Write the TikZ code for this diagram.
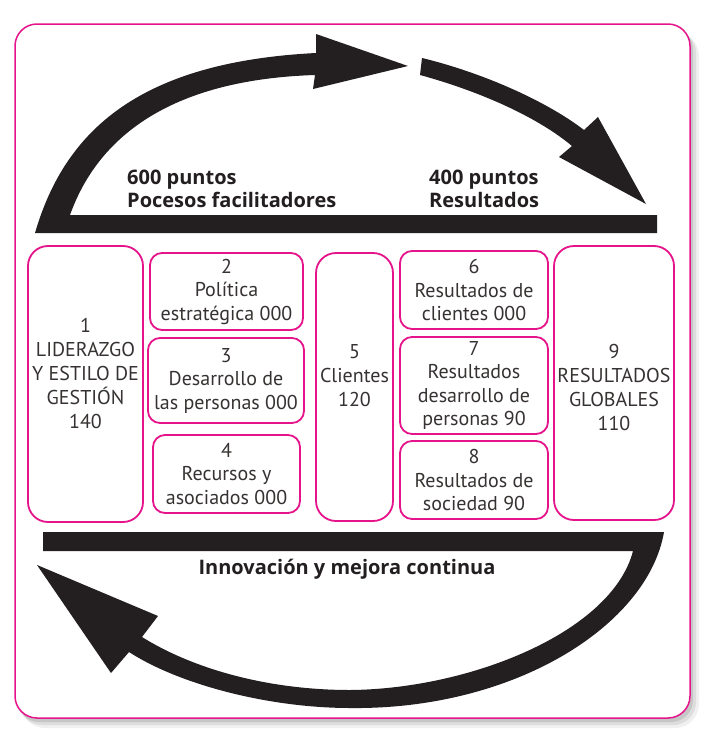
\documentclass[tikz,border=0pt]{standalone}
\usepackage{fontspec}
\setmainfont{PT Sans}
\newfontfamily\lblfont{Open Sans}
\definecolor{mag}{RGB}{230,20,138}
\definecolor{ink}{RGB}{35,31,32}
\definecolor{txtc}{RGB}{55,50,50}
\begin{document}
\begin{tikzpicture}[x=1pt,y=-1pt,
  box/.style={draw=mag,line width=1.8pt,rounded corners=12pt,inner sep=0pt,text=txtc,
    font=\fontsize{20}{23.5}\selectfont,align=center},
  tallbox/.style={box,rounded corners=20pt},
  btxt/.style={text=txtc,font=\fontsize{20}{24}\selectfont,align=center,inner sep=0pt},
  lbl/.style={text=ink,font=\lblfont\bfseries\fontsize{20}{23}\selectfont,align=left,inner sep=0pt,anchor=west},
  arrowfill/.style={fill=ink}]
\useasboundingbox (0,0) rectangle (707,736);
\fill[white] (0,0) rectangle (707,736);
% frame shadow
\fill[black,opacity=0.06,rounded corners=24pt] (21,32) rectangle (699,728);
\fill[black,opacity=0.08,rounded corners=23pt] (19,30) rectangle (696,725);
\fill[black,opacity=0.10,rounded corners=22pt] (17,28) rectangle (693,722);
% frame
\draw[mag,line width=1.5pt,fill=white,rounded corners=22pt] (15,24) rectangle (690,718);

% top arrows
\fill[arrowfill] (35,233) -- (657,233) -- (657,215) -- (70,215)
  .. controls (95,145) and (160,80) .. (315,75) -- (313,89) -- (408,66) -- (316,34) -- (316,53)
  .. controls (140,62) and (65,130) .. (35,233) -- cycle;
\fill[arrowfill] (422,58) .. controls (480,72) and (545,100) .. (584,130) -- (598,117)
  -- (646,204) -- (559,157) -- (572,146) .. controls (535,115) and (475,90) .. (420,75) -- cycle;
% bottom arrow
\fill[arrowfill] (43,532) -- (664,532) .. controls (648,625) and (515,710) .. (350,708)
  .. controls (270,708) and (180,685) .. (129,652) -- (111,673) -- (37,565) -- (158,616) -- (142,637)
  .. controls (195,670) and (270,690) .. (350,690) .. controls (470,689) and (612,632) .. (633,551)
  -- (43,551) -- cycle;

% labels
\node[lbl] (l600) at (127,189) {600 puntos\\Pocesos facilitadores};
\node[lbl] (l400) at (429,189) {400 puntos\\Resultados};
\node[text=ink,font=\lblfont\bfseries\fontsize{20}{23}\selectfont,inner sep=0pt] (linno) at (347,569) {Innovación y mejora continua};

% boxes
\node[tallbox,minimum width=115pt,minimum height=276pt] (b1) at (85.5,384) {};
\node[btxt] (t1) at (85.5,373) {1\\LIDERAZGO\\Y ESTILO DE\\GESTIÓN\\140};
\node[box,minimum width=153pt,minimum height=77pt] (b2) at (226.5,291.5) {2\\Política\\estratégica 000};
\node[box,minimum width=156pt,minimum height=85pt] (b3) at (226,380.5) {3\\Desarrollo de\\las personas 000};
\node[box,minimum width=147pt,minimum height=78pt] (b4) at (226.5,474) {4\\Recursos y\\asociados 000};
\node[tallbox,minimum width=77pt,minimum height=268pt] (b5) at (354.5,387) {};
\node[btxt] (t5) at (354.5,376) {5\\Clientes\\120};
\node[box,minimum width=148pt,minimum height=78pt] (b6) at (474,290) {6\\Resultados de\\clientes 000};
\node[box,minimum width=148pt,minimum height=97pt] (b7) at (474,385.5) {7\\Resultados\\desarrollo de\\personas 90};
\node[box,minimum width=148pt,minimum height=78pt] (b8) at (474,480) {8\\Resultados de\\sociedad 90};
\node[tallbox,minimum width=120pt,minimum height=274pt] (b9) at (614,383) {};
\node[btxt] (t9) at (614,387.5) {9\\RESULTADOS\\GLOBALES\\110};
\end{tikzpicture}
\end{document}
